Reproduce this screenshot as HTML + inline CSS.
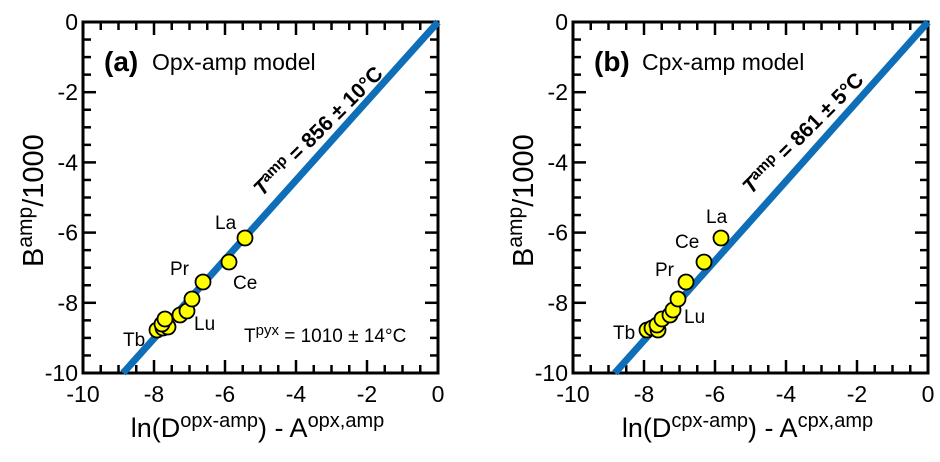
<!DOCTYPE html>
<html><head><style>body{margin:0;background:#fff}svg{display:block}</style></head>
<body>
<svg width="940" height="462" viewBox="0 0 940 462" xmlns="http://www.w3.org/2000/svg" font-family="Liberation Sans, Arial, sans-serif">
<g id="pa"></g><g id="pb"></g>
</svg>
<script>
const NS="http://www.w3.org/2000/svg";
function el(p,t,a,txt){const e=document.createElementNS(NS,t);for(const k in a)e.setAttribute(k,a[k]);if(txt!==undefined)e.textContent=txt;p.appendChild(e);return e;}
function panel(g,L,lineEnd,pts,labels,tag,model,xsup1,xsup2,tlab,extra){
 const R=L+355,T=22,B=373;
 const X=v=>L+(v+10)*35.5, Y=v=>T-v*35.1;
 for(let i=0;i<=20;i++){const v=-10+i*0.5;const maj=i%4==0;const len=maj?13:8;
  const x=X(v);el(g,'line',{x1:x,y1:B,x2:x,y2:B-len,stroke:'#000','stroke-width':2.5});
  el(g,'line',{x1:x,y1:T,x2:x,y2:T+len,stroke:'#000','stroke-width':2.5});
  const y=Y(v);el(g,'line',{x1:L,y1:y,x2:L+len,y2:y,stroke:'#000','stroke-width':2.5});
  el(g,'line',{x1:R,y1:y,x2:R-len,y2:y,stroke:'#000','stroke-width':2.5});
  if(maj){el(g,'text',{x:x,y:B+29,'font-size':23,'text-anchor':'middle'},String(v));
   el(g,'text',{x:L-5,y:y+8,'font-size':23,'text-anchor':'end'},String(v));}
 }
 el(g,'rect',{x:L,y:T,width:R-L,height:B-T,fill:'none',stroke:'#000','stroke-width':3});
 el(g,'line',{x1:X(lineEnd),y1:B,x2:X(0),y2:T,stroke:'#0e6fb8','stroke-width':7});
 pts.forEach(p=>el(g,'circle',{cx:p[0],cy:p[1],r:7.5,fill:'#ffff00',stroke:'#000','stroke-width':1.8}));
 labels.forEach(l=>el(g,'text',{x:l[1],y:l[2],'font-size':19},l[0]));
 el(g,'text',{x:L+21,y:71,'font-size':28,'font-weight':'bold'},tag);
 el(g,'text',{x:L+69,y:70,'font-size':23},model);
 const t=el(g,'text',{x:0,y:0,'font-size':21,'font-weight':'bold',transform:tlab[0]});
 t.innerHTML=tlab[1];
 const yl=el(g,'text',{transform:`translate(${L-40},${T+245}) rotate(-90)`,'font-size':29});
 yl.innerHTML='B<tspan font-size="21" dy="-11">amp</tspan><tspan dy="11">/1000</tspan>';
 const xl=el(g,'text',{x:(L+R)/2-3,y:437,'font-size':27,'text-anchor':'middle'});
 xl.innerHTML=`ln(D<tspan font-size="20" dy="-10">${xsup1}</tspan><tspan dy="10">) - A</tspan><tspan font-size="20" dy="-10">${xsup2}</tspan>`;
 if(extra){const e=el(g,'text',{x:244,y:342,'font-size':19});e.innerHTML='T<tspan font-size="15" dy="-7">pyx</tspan><tspan dy="7"> = 1010 ± 14°C</tspan>';}
}
panel(document.getElementById('pa'),83,-8.87,
 [[157,330],[163,328],[168,327],[162,324],[180,315],[187,311],[192,299],[165,319],[203,282],[229,262],[245,238]],
 [['La',215,229],['Ce',233,289],['Pr',170,275],['Lu',194,330],['Tb',123,346]],
 '(a)','Opx-amp model','opx-amp','opx,amp',
 ['translate(262,197) rotate(-45)','<tspan font-style="italic">T</tspan><tspan font-size="15" dy="-7">amp</tspan><tspan dy="7"> = 856 ± 10°C</tspan>'],true);
panel(document.getElementById('pb'),573,-8.82,
 [[647,330],[652,328],[658,330],[657,325],[662,319],[670,315],[673,310],[678,299],[686,282],[704,262],[721,238]],
 [['La',706,223],['Ce',675,248],['Pr',655,276],['Lu',684,323],['Tb',613,339]],
 '(b)','Cpx-amp model','cpx-amp','cpx,amp',
 ['translate(751,195) rotate(-45)','<tspan font-style="italic">T</tspan><tspan font-size="15" dy="-7">amp</tspan><tspan dy="7"> = 861 ± 5°C</tspan>'],false);
</script>
</body></html>
